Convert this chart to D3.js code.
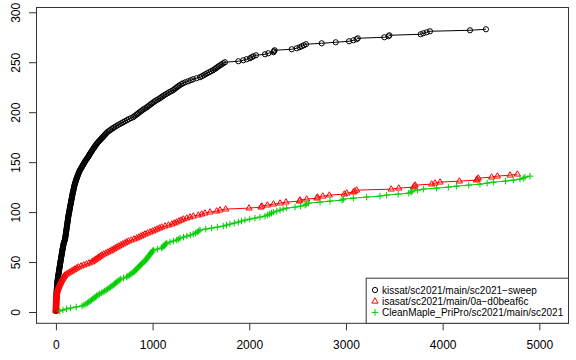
<!DOCTYPE html>
<html><head><meta charset="utf-8">
<script src="https://cdn.jsdelivr.net/npm/d3@7"></script>
<style>body{margin:0;background:#fff}svg{display:block;font-family:"Liberation Sans",Arial,Helvetica,sans-serif}</style>
</head><body><svg id="c" width="576" height="360"></svg>
<script>
// ---- data (times in seconds; the i-th time is the (i+1)-th solved instance) ----
const seriesNames = ["kissat/sc2021/main/sc2021\u2212sweep", "isasat/sc2021/main/0a\u2212d0beaf6c", "CleanMaple_PriPro/sc2021/main/sc2021"];
const seriesColors = ["#000000", "#FF0000", "#00CD00"];
const kissatTimes = [0,0,1,1,1,2,2,2,3,3,3,4,4,4,5,5,6,6,7,7,8,8,9,10,10,11,12,13,14,15,
16,18,19,21,22,24,25,27,29,30,32,33,35,37,38,40,42,43,45,47,48,50,52,53,55,57,59,60,62,64,66,67,69,71,73,75,77,79,81,84,88,92,
95,96,98,99,101,102,104,105,107,108,110,111,113,114,116,117,119,120,122,123,125,126,128,129,131,133,135,137,139,141,142,144,146,
148,150,152,154,156,158,160,162,164,166,168,170,172,174,176,179,181,183,186,188,190,193,195,198,
202,205,209,212,216,219,223,227,231,235,239,244,249,
255,261,267,273,279,285,291,297,303,310,317,325,332,
338,344,350,357,363,370,377,384,391,398,405,412,420,428,436,446,456,
465,475,484,494,503,512,522,532,545,560,
575,590,605,622,640,658,677,696,
715,735,752,775,800,
812,826,840,852,866,880,894,908,925,942,
955,968,982,995,1010,1024,1040,1058,1077,
1090,1105,1120,1138,1155,1172,1192,1212,
1225,1238,1252,1266,1280,1298,1315,
1340,1368,1395,1420,1455,1490,
1510,1528,1546,1565,1585,1605,1625,
1640,1655,1670,1684,1700,1715,1732,1749,
1887,1938,1973,2008,2025,2042,2070,
2163,2197,2250,2256,2262,
2439,2491,2520,2543,2565,2587,
2749,2894,
3032,3077,3110,3122,
3397,3440,3449,
3773,3800,3835,3869,
4283,4448];
const isasatTimes = [0,0,0,1,1,1,1,2,2,2,3,3,4,4,5,5,6,7,8,10,
13,16,19,23,27,31,35,40,45,50,
55,61,67,73,80,87,94,
110,128,146,
163,180,197,214,232,
260,288,316,343,370,
385,400,415,430,445,460,474,
495,517,538,560,
578,596,614,632,650,
670,690,710,730,750,
779,808,836,
858,879,900,922,
948,974,1000,
1024,1047,1071,1094,
1129,1164,1200,
1224,1248,1272,1296,
1318,1353,1387,1421,1473,1508,1542,1594,1663,1697,1756,
1997,2121,2130,2187,2250,2318,2380,2518,2525,2594,2698,2705,2760,2828,2983,
3008,3076,3090,3111,3468,3546,3697,3710,3716,3887,3921,3973,4173,4350,4356,
4369,4507,4566,4697,4773];
const cleanMapleTimes = [40,72,110,150,210,270,
290,310,325,340,
355,368,382,395,408,420,435,450,
470,488,505,520,536,550,565,
580,592,605,618,630,642,655,670,
700,732,
745,760,775,790,805,
815,825,835,845,855,865,875,885,897,910,
920,928,936,944,952,960,968,976,984,992,1000,1008,
1050,1094,
1105,1115,1125,1135,1146,
1180,1215,1250,1266,1284,
1320,1355,1390,1420,1445,
1462,1476,1490,
1550,1611,1670,1731,1765,1800,1845,1887,1920,1956,2005,2059,2110,2163,
2190,2210,2230,2249,2285,2318,2350,2387,2473,
2530,2577,2590,2611,2732,2835,2960,2973,3076,3214,3352,3421,3541,
3650,3672,3685,3740,3800,3938,4059,4145,4270,4386,4460,4524,4650,4731,4800,4834,4852,4904];
const xTicks = [0,1000,2000,3000,4000,5000];
const yTicks = [0,50,100,150,200,250,300];

// ---- drawing ----
const svg = d3.select("#c");
const L = 36, R = 569, T = 7, B = 323.3;
const x = d3.scaleLinear().domain([-206, 5307]).range([L, R]);
const y = d3.scaleLinear().domain([-11.3, 305.3]).range([B, T]);
const axisCol = "#333";

const toPts = times => times.map((t, i) => [t, i + 1]);
const series = [kissatTimes, isasatTimes, cleanMapleTimes].map(toPts);

const line = d3.line().x(d => x(d[0])).y(d => y(d[1]));

function marker(g, kind, cx, cy, col) {
  if (kind === 0) {
    g.append("circle").attr("cx", cx).attr("cy", cy).attr("r", 2.6)
      .attr("fill", "none").attr("stroke", col).attr("stroke-width", 1);
  } else if (kind === 1) {
    g.append("path").attr("d", `M${cx},${cy-3.4}L${cx+3.1},${cy+1.9}L${cx-3.1},${cy+1.9}Z`)
      .attr("fill", "none").attr("stroke", col).attr("stroke-width", 1);
  } else {
    g.append("path").attr("d", `M${cx-3.3},${cy}H${cx+3.3}M${cx},${cy-3.3}V${cy+3.3}`)
      .attr("fill", "none").attr("stroke", col).attr("stroke-width", 1);
  }
}

series.forEach((pts, k) => {
  const g = svg.append("g");
  g.append("path").datum(pts).attr("d", line).attr("fill", "none")
    .attr("stroke", seriesColors[k]).attr("stroke-width", 1);
  pts.forEach(p => marker(g, k, x(p[0]), y(p[1]), seriesColors[k]));
});

// axes
const xAxis = svg.append("g").attr("transform", `translate(0,${B})`)
  .call(d3.axisBottom(x).tickValues(xTicks).tickFormat(d3.format("d")).tickSize(7).tickPadding(10).tickSizeOuter(0));
xAxis.select(".domain").remove();
xAxis.selectAll("line").attr("stroke", axisCol);
xAxis.selectAll("text").attr("font-size", 12).attr("fill", "#000")
  .attr("font-family", '"Liberation Sans",Arial,sans-serif');

const yAxis = svg.append("g").attr("transform", `translate(${L},0)`)
  .call(d3.axisLeft(y).tickValues(yTicks).tickSize(7).tickSizeOuter(0));
yAxis.select(".domain").remove();
yAxis.selectAll("line").attr("stroke", axisCol);
yAxis.selectAll("text").remove();
yAxis.selectAll(".tick").append("text")
  .attr("transform", "translate(-16,0) rotate(-90)")
  .attr("text-anchor", "middle").attr("font-size", 12).attr("fill", "#000")
  .attr("font-family", '"Liberation Sans",Arial,sans-serif')
  .text(d => d);

// box
svg.append("rect").attr("x", L + 0.5).attr("y", T + 0.5).attr("width", R - L - 1).attr("height", B - T - 0.5)
  .attr("fill", "none").attr("stroke", axisCol).attr("stroke-width", 1);

// legend
const lg = svg.append("g");
const lx0 = 365.7, ly0 = 277.7;
lg.append("rect").attr("x", lx0 + 0.5).attr("y", ly0 + 0.5).attr("width", R - lx0 - 1).attr("height", B - ly0 - 0.5)
  .attr("fill", "#fff").attr("stroke", axisCol).attr("stroke-width", 1);
seriesNames.forEach((name, k) => {
  const cy = 290 + k * 11.2;
  marker(lg, k, 375, cy, seriesColors[k]);
  lg.append("text").attr("x", 382).attr("y", cy + 3.6).attr("font-size", 10).attr("fill", "#000").text(name);
});
</script></body></html>
